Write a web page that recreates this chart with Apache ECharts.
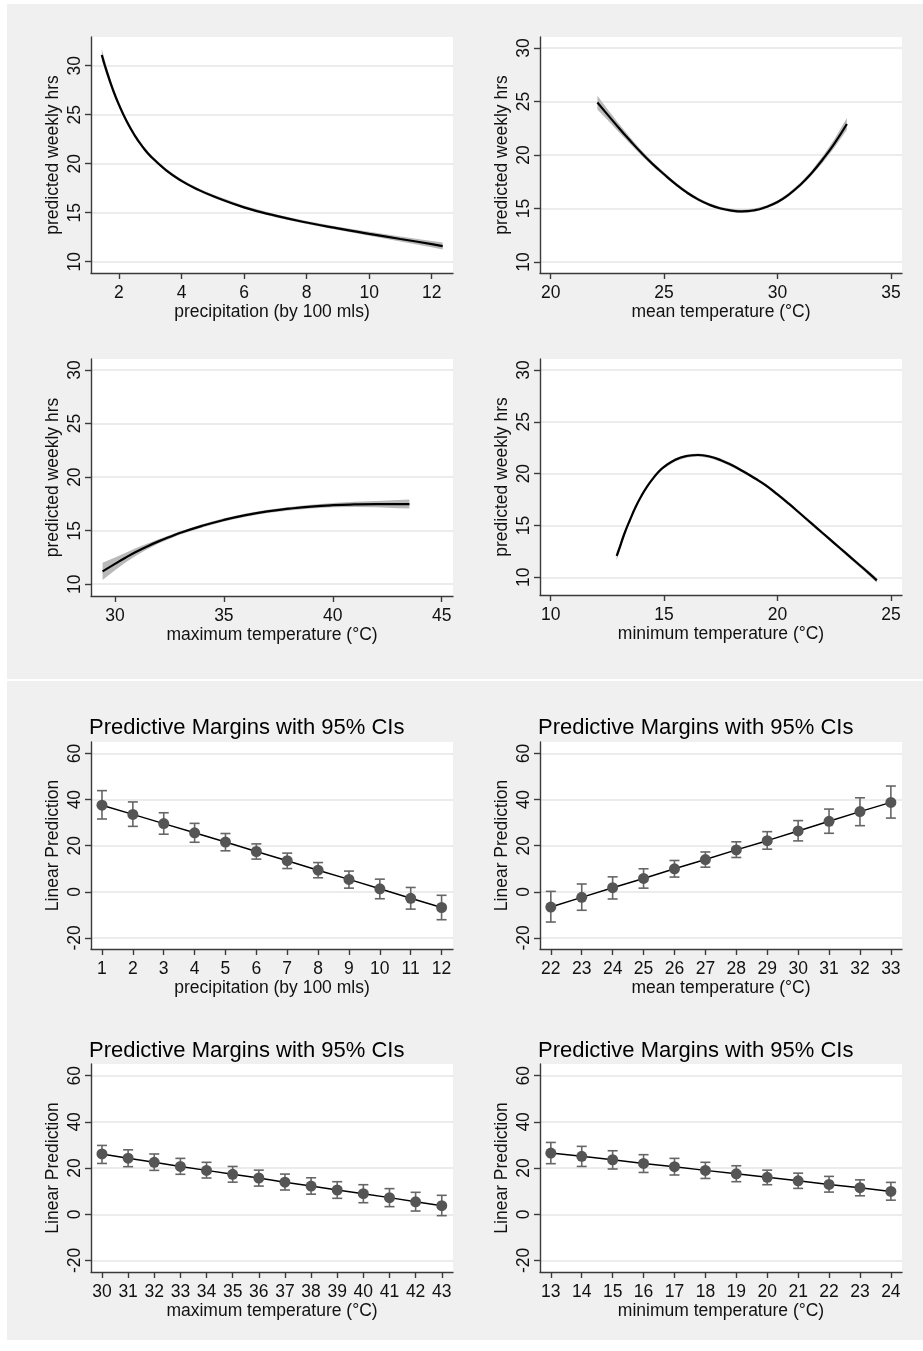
<!DOCTYPE html>
<html><head><meta charset="utf-8">
<script src="https://cdn.jsdelivr.net/npm/echarts@6/dist/echarts.min.js"></script>
<style>html,body{margin:0;padding:0;background:#fff}#c{width:923px;height:1351px}</style>
</head><body><div id="c"></div>
<script>
// ---------- top panel: predicted weekly hrs (fitted curves with 95% band) ----------
const precipX  = [1.45,1.6,1.8,2.0,2.25,2.5,2.75,3.0,3.5,4,4.5,5,6,7,8,9,10,11,12,12.35];
const precipY  = [31.1,29.5,27.6,26.0,24.3,22.9,21.75,20.8,19.35,18.25,17.4,16.7,15.55,14.7,14.0,13.4,12.85,12.32,11.8,11.6];
const precipCI = [0.6,0.45,0.35,0.3,0.25,0.2,0.18,0.16,0.15,0.15,0.15,0.15,0.15,0.15,0.15,0.17,0.2,0.25,0.32,0.35];

const meanX  = [22.06,22.5,23,23.5,24,24.5,25,25.5,26,26.5,27,27.5,28,28.43,29,29.5,30,30.5,31,31.5,32,32.5,33.06];
const meanY  = [24.9,23.8,22.55,21.35,20.2,19.15,18.2,17.3,16.5,15.85,15.35,15.0,14.8,14.73,14.84,15.14,15.6,16.3,17.2,18.3,19.6,21.05,22.9];
const meanCI = [0.65,0.5,0.4,0.3,0.25,0.2,0.18,0.16,0.15,0.15,0.15,0.15,0.15,0.15,0.15,0.15,0.15,0.16,0.18,0.22,0.3,0.4,0.55];

const maxX  = [29.43,30,30.5,31,31.5,32,32.5,33,34,35,36,37,38,39,40,41,42,43,43.52];
const maxY  = [11.2,11.9,12.5,13.05,13.55,14.0,14.4,14.8,15.45,16.0,16.45,16.8,17.05,17.25,17.38,17.45,17.48,17.48,17.48];
const maxCI = [0.8,0.6,0.45,0.35,0.25,0.2,0.17,0.15,0.15,0.15,0.15,0.15,0.16,0.18,0.2,0.25,0.3,0.38,0.42];

const minX  = [12.91,13.0,13.25,13.5,13.75,14.0,14.25,14.5,14.75,15.0,15.5,16.0,16.5,17.0,17.5,18.0,18.5,19.0,19.5,20.0,20.5,21.0,21.5,22.0,22.5,23.0,23.5,24.0,24.38];
const minY  = [12.06,12.6,14.2,15.55,16.8,17.85,18.75,19.5,20.15,20.65,21.35,21.7,21.8,21.65,21.3,20.8,20.2,19.55,18.85,18.0,17.1,16.15,15.2,14.25,13.3,12.35,11.4,10.45,9.7];
const minCI = [0.4,0.35,0.28,0.22,0.18,0.16,0.15,0.15,0.15,0.15,0.15,0.15,0.15,0.15,0.15,0.15,0.15,0.15,0.15,0.15,0.15,0.15,0.15,0.15,0.16,0.17,0.18,0.2,0.22];

const topYTicks = [10,15,20,25,30];
const precipTicks = [2,4,6,8,10,12];
const meanTicks = [20,25,30,35];
const maxTicks = [30,35,40,45];
const minTicks = [10,15,20,25];

// ---------- bottom panel: predictive margins with 95% CIs ----------
const mPrecipX  = [1,2,3,4,5,6,7,8,9,10,11,12];
const mPrecipY  = [37.6,33.6,29.6,25.6,21.6,17.5,13.5,9.4,5.4,1.3,-2.8,-6.8];
const mPrecipLo = [31.6,28.4,25.0,21.5,17.8,14.2,10.1,6.1,1.6,-3.0,-7.5,-12.1];
const mPrecipHi = [43.9,39.0,34.3,29.7,25.3,20.8,16.8,12.7,9.0,5.5,1.9,-1.5];

const mMeanX  = [22,23,24,25,26,27,28,29,30,31,32,33];
const mMeanY  = [-6.6,-2.4,1.8,5.8,10.0,14.0,18.2,22.2,26.4,30.6,34.8,38.8];
const mMeanLo = [-13.1,-8.0,-3.1,1.6,6.4,10.7,14.9,18.5,22.1,25.4,28.7,32.0];
const mMeanHi = [0.2,3.4,6.5,10.0,13.6,17.3,21.7,26.1,30.9,35.9,40.8,45.9];

const mMaxX  = [30,31,32,33,34,35,36,37,38,39,40,41,42,43];
const mMaxY  = [26.1,24.3,22.5,20.7,19.0,17.3,15.7,13.9,12.2,10.5,8.9,7.2,5.4,3.7];
const mMaxLo = [22.0,20.6,19.0,17.3,15.7,13.9,12.2,10.5,8.7,6.9,5.0,3.3,1.4,-0.6];
const mMaxHi = [29.8,27.9,26.1,24.2,22.5,20.7,19.1,17.4,15.8,14.1,12.8,11.1,9.5,8.2];

const mMinX  = [13,14,15,16,17,18,19,20,21,22,23,24];
const mMinY  = [26.5,25.1,23.6,22.0,20.6,19.0,17.5,16.0,14.5,12.9,11.5,9.9];
const mMinLo = [21.9,20.7,19.6,18.1,17.0,15.5,14.1,12.8,11.2,9.6,8.0,6.1];
const mMinHi = [31.1,29.4,27.5,25.8,24.2,22.5,21.0,19.1,17.8,16.4,14.9,13.8];

const marginYTicks = [-20,0,20,40,60];
const mPrecipTicks = [1,2,3,4,5,6,7,8,9,10,11,12];
const mMeanTicks = [22,23,24,25,26,27,28,29,30,31,32,33];
const mMaxTicks = [30,31,32,33,34,35,36,37,38,39,40,41,42,43];
const mMinTicks = [13,14,15,16,17,18,19,20,21,22,23,24];

const yTitleTop = 'predicted weekly hrs';
const yTitleBottom = 'Linear Prediction';
const marginTitle = 'Predictive Margins with 95% CIs';
const xTitles = ['precipitation (by 100 mls)','mean temperature (°C)','maximum temperature (°C)','minimum temperature (°C)'];

// ---------- build ----------
const F = '"Liberation Sans", Arial, sans-serif';
const AX = '#3a3a3a';
const TXT = '#111';
const FS = 17.5;

const grids = [
  {left:91, top:37, width:362, height:236},
  {left:540, top:37, width:362, height:236},
  {left:91, top:359, width:362, height:237},
  {left:540, top:359, width:362, height:236},
  {left:91, top:742, width:362, height:207},
  {left:540, top:742, width:362, height:207},
  {left:91, top:1064, width:362, height:208},
  {left:540, top:1064, width:362, height:208}
].map(g => Object.assign({show:true, backgroundColor:'#fff', borderWidth:0}, g));

function xAx(gi, min, max, ticks, name) {
  return {type:'value', gridIndex:gi, min, max, name, nameLocation:'middle', nameGap:28,
    nameTextStyle:{fontSize:FS, color:TXT, fontFamily:F, lineHeight:18},
    axisLine:{show:true, onZero:false, lineStyle:{color:AX, width:1.4}},
    axisTick:{show:true, length:6, customValues:ticks, lineStyle:{color:AX, width:1.4}},
    axisLabel:{customValues:ticks, fontSize:FS, color:TXT, fontFamily:F, margin:11, lineHeight:18},
    splitLine:{show:false}};
}
function yAx(gi, min, max, ticks, name) {
  return {type:'value', gridIndex:gi, min, max, name, nameLocation:'middle', nameGap:29, nameRotate:90,
    nameTextStyle:{fontSize:FS, color:TXT, fontFamily:F, lineHeight:18},
    axisLine:{show:true, onZero:false, lineStyle:{color:AX, width:1.4}},
    axisTick:{show:true, length:6, customValues:ticks, lineStyle:{color:AX, width:1.4}},
    axisLabel:{customValues:ticks, rotate:90, fontSize:FS, color:TXT, fontFamily:F, margin:7, lineHeight:18},
    splitLine:{show:true, lineStyle:{color:'#e6e6e6', width:1.5}}};
}

const xAxes = [
  xAx(0, 1.105, 12.68, precipTicks, xTitles[0]),
  xAx(1, 19.53, 35.49, meanTicks, xTitles[1]),
  xAx(2, 28.9, 45.52, maxTicks, xTitles[2]),
  xAx(3, 9.53, 25.49, minTicks, xTitles[3]),
  xAx(4, 0.644, 12.37, mPrecipTicks, xTitles[0]),
  xAx(5, 21.65, 33.36, mMeanTicks, xTitles[1]),
  xAx(6, 29.58, 43.43, mMaxTicks, xTitles[2]),
  xAx(7, 12.65, 24.36, mMinTicks, xTitles[3])
];
const yAxes = [
  yAx(0, 8.85, 32.93, topYTicks, yTitleTop),
  yAx(1, 8.97, 31.03, topYTicks, yTitleTop),
  yAx(2, 8.9, 31.03, topYTicks, yTitleTop),
  yAx(3, 8.29, 31.06, topYTicks, yTitleTop),
  yAx(4, -24.8, 65.0, marginYTicks, yTitleBottom),
  yAx(5, -24.8, 65.0, marginYTicks, yTitleBottom),
  yAx(6, -25.0, 65.06, marginYTicks, yTitleBottom),
  yAx(7, -25.0, 65.06, marginYTicks, yTitleBottom)
];

function band(gi, xs, ys, hw) {
  const data = xs.map((x,i) => [x, ys[i]-hw[i], ys[i]+hw[i]]);
  return {type:'custom', xAxisIndex:gi, yAxisIndex:gi, data, silent:true, z:1,
    renderItem(params, api) {
      if (params.dataIndex !== 0) return null;
      const up = data.map(d => api.coord([d[0], d[2]]));
      const dn = data.map(d => api.coord([d[0], d[1]])).reverse();
      return {type:'polygon', shape:{points: up.concat(dn)}, style:{fill:'#b9b9b9'}};
    }};
}
function curve(gi, xs, ys) {
  return {type:'line', xAxisIndex:gi, yAxisIndex:gi, data: xs.map((x,i)=>[x, ys[i]]),
    showSymbol:false, symbol:'none', smooth:0.5, z:3, silent:true,
    lineStyle:{color:'#000', width:2.2}};
}
function errbars(gi, xs, lo, hi) {
  return {type:'custom', xAxisIndex:gi, yAxisIndex:gi, data: xs.map((x,i)=>[x, lo[i], hi[i]]), silent:true, z:2,
    renderItem(params, api) {
      const x = api.value(0);
      const p1 = api.coord([x, api.value(1)]), p2 = api.coord([x, api.value(2)]);
      const w = 5, st = {stroke:'#666', lineWidth:1.6};
      return {type:'group', children:[
        {type:'line', shape:{x1:p1[0], y1:p1[1], x2:p2[0], y2:p2[1]}, style:st},
        {type:'line', shape:{x1:p1[0]-w, y1:p1[1], x2:p1[0]+w, y2:p1[1]}, style:st},
        {type:'line', shape:{x1:p2[0]-w, y1:p2[1], x2:p2[0]+w, y2:p2[1]}, style:st}
      ]};
    }};
}
function margins(gi, xs, ys) {
  return {type:'line', xAxisIndex:gi, yAxisIndex:gi, data: xs.map((x,i)=>[x, ys[i]]),
    symbol:'circle', symbolSize:11, showSymbol:true, z:3, silent:true,
    itemStyle:{color:'#555555'}, lineStyle:{color:'#000', width:1.5}};
}

const series = [
  band(0, precipX, precipY, precipCI), curve(0, precipX, precipY),
  band(1, meanX, meanY, meanCI), curve(1, meanX, meanY),
  band(2, maxX, maxY, maxCI), curve(2, maxX, maxY),
  band(3, minX, minY, minCI), curve(3, minX, minY),
  errbars(4, mPrecipX, mPrecipLo, mPrecipHi), margins(4, mPrecipX, mPrecipY),
  errbars(5, mMeanX, mMeanLo, mMeanHi), margins(5, mMeanX, mMeanY),
  errbars(6, mMaxX, mMaxLo, mMaxHi), margins(6, mMaxX, mMaxY),
  errbars(7, mMinX, mMinLo, mMinHi), margins(7, mMinX, mMinY)
];

const tStyle = {fontSize:22, fontWeight:'normal', color:'#000', fontFamily:F, lineHeight:22};
const titles = [
  {text:marginTitle, left:89, top:717, padding:0, textStyle:tStyle},
  {text:marginTitle, left:538, top:717, padding:0, textStyle:tStyle},
  {text:marginTitle, left:89, top:1040, padding:0, textStyle:tStyle},
  {text:marginTitle, left:538, top:1040, padding:0, textStyle:tStyle}
];

const chart = echarts.init(document.getElementById('c'), null, {renderer:'canvas'});
chart.setOption({
  animation:false,
  backgroundColor:'#ffffff',
  graphic:[
    {type:'rect', shape:{x:7, y:4, width:916, height:675}, style:{fill:'#f0f0f0'}, z:-10, silent:true},
    {type:'rect', shape:{x:7, y:681, width:916, height:659}, style:{fill:'#f0f0f0'}, z:-10, silent:true}
  ],
  title: titles,
  grid: grids,
  xAxis: xAxes,
  yAxis: yAxes,
  series
});
</script></body></html>
